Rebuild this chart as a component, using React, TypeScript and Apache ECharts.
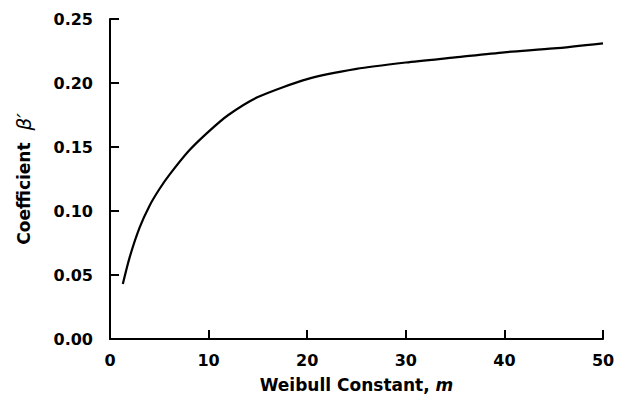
import React, { useEffect, useRef } from "react";
import * as echarts from "echarts";

const mValues = [1.3, 2, 3, 4, 5, 6, 8, 10, 12, 15, 20, 25, 30, 35, 40, 45, 50];
const betaValues = [0.043, 0.064, 0.087, 0.104, 0.117, 0.128, 0.147, 0.162, 0.175, 0.189, 0.203, 0.211, 0.216, 0.220, 0.224, 0.227, 0.231];
const xTicks = [0, 10, 20, 30, 40, 50];
const yTicks = [0, 0.05, 0.1, 0.15, 0.2, 0.25];

const FONT = "DejaVu Sans";

export default function App() {
  const ref = useRef<HTMLDivElement>(null);
  useEffect(() => {
    if (!ref.current) return;
    const chart = echarts.init(ref.current, undefined, { renderer: "svg" });
    const axisLineStyle = { color: "#000", width: 2 };
    chart.setOption({
      animation: false,
      backgroundColor: "#fff",
      grid: { left: 110, right: 20, top: 19, bottom: 56 },
      xAxis: {
        type: "value",
        min: xTicks[0],
        max: xTicks[xTicks.length - 1],
        interval: 10,
        name: "Weibull Constant, {i|m}",
        nameLocation: "middle",
        nameGap: 37,
        nameTextStyle: {
          fontFamily: FONT,
          fontWeight: "bold",
          fontSize: 17,
          color: "#000",
          rich: {
            i: { fontFamily: FONT, fontWeight: "bold", fontStyle: "italic", fontSize: 17, color: "#000" },
          },
        },
        axisLine: { show: true, lineStyle: axisLineStyle },
        axisTick: { show: true, inside: true, length: 9, lineStyle: axisLineStyle },
        axisLabel: { margin: 13, fontFamily: FONT, fontWeight: "bold", fontSize: 16, color: "#000" },
        splitLine: { show: false },
      },
      yAxis: {
        type: "value",
        min: yTicks[0],
        max: yTicks[yTicks.length - 1],
        interval: 0.05,
        name: "Coefficient  {i|β′}",
        nameLocation: "middle",
        nameGap: 76,
        nameRotate: 90,
        nameTextStyle: {
          fontFamily: FONT,
          fontWeight: "bold",
          fontSize: 17,
          color: "#000",
          rich: {
            i: { fontFamily: FONT, fontStyle: "italic", fontWeight: "normal", fontSize: 20, color: "#000" },
          },
        },
        axisLine: { show: true, lineStyle: axisLineStyle },
        axisTick: { show: true, inside: true, length: 9, lineStyle: axisLineStyle },
        axisLabel: {
          margin: 17,
          fontFamily: FONT,
          fontWeight: "bold",
          fontSize: 16,
          color: "#000",
          formatter: (v: number) => v.toFixed(2),
        },
        splitLine: { show: false },
      },
      series: [
        {
          type: "line",
          data: mValues.map((m, i) => [m, betaValues[i]]),
          showSymbol: false,
          smooth: 0.25,
          lineStyle: { color: "#000", width: 2.2 },
        },
      ],
    });
    return () => chart.dispose();
  }, []);
  return <div ref={ref} style={{ position: "fixed", left: 0, top: 0, width: 623, height: 398 }} />;
}
